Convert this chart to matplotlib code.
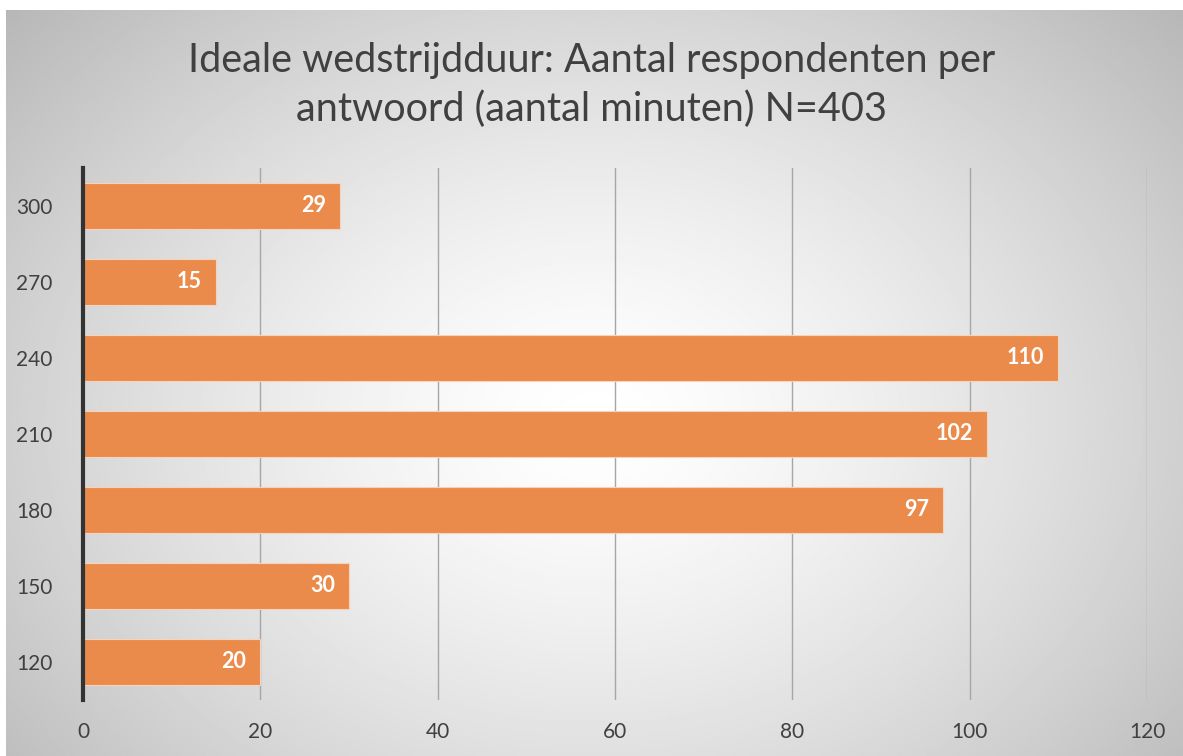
import numpy as np
import matplotlib.pyplot as plt

# data
categories = ['120', '150', '180', '210', '240', '270', '300']
values = [20, 30, 97, 102, 110, 15, 29]
x_ticks = [0, 20, 40, 60, 80, 100, 120]

plt.rcParams['font.family'] = ['Lato', 'DejaVu Sans']

fig = plt.figure(figsize=(11.83, 7.56), dpi=100)

# radial gradient background
bg = fig.add_axes([6 / 1183, 0, 1 - 6 / 1183, 1 - 10 / 756])
yy, xx = np.mgrid[0:1:400j, 0:1:600j]
r = np.sqrt(((xx - 0.5) / 0.62) ** 2 + ((yy - 0.55) / 0.75) ** 2)
shade = 1.0 - 0.25 * np.clip(r, 0, 1.1) ** 1.4
bg.imshow(shade, cmap='gray', vmin=0, vmax=1, aspect='auto', extent=[0, 1, 0, 1])
bg.axis('off')

ax = fig.add_axes([83 / 1183, 1 - 700 / 756, 1064 / 1183, 532 / 756])
ax.patch.set_alpha(0)

y = np.arange(len(categories))
bars = ax.barh(y, values, height=0.6, color='#EB8B4B', edgecolor='#F5D3BC',
               linewidth=0.8, zorder=3)

for b, v in zip(bars, values):
    ax.text(b.get_width() - 1.6, b.get_y() + b.get_height() / 2, str(v),
            ha='right', va='center', color='white', fontsize=15.5,
            fontweight='bold', zorder=4)

ax.set_xlim(0, 120)
ax.set_ylim(-0.5, len(categories) - 0.5)
ax.set_xticks(x_ticks)
ax.set_yticks(y)
ax.set_yticklabels(categories)
ax.grid(axis='x', color='#A6A6A6', linewidth=1, zorder=0)
ax.tick_params(axis='both', length=0, labelsize=15, labelcolor='#404040')
ax.tick_params(axis='x', pad=16)
ax.tick_params(axis='y', pad=22)
for s in ['top', 'right', 'bottom']:
    ax.spines[s].set_visible(False)
ax.spines['left'].set_color('#333333')
ax.spines['left'].set_linewidth(3)
ax.spines['left'].set_zorder(5)

fig.text(0.5, 1 - 85 / 756, 'Ideale wedstrijdduur: Aantal respondenten per\nantwoord (aantal minuten) N=403',
         ha='center', va='center', fontsize=28.5, color='#404040', linespacing=1.38)

fig.savefig('out.png', dpi=100)
